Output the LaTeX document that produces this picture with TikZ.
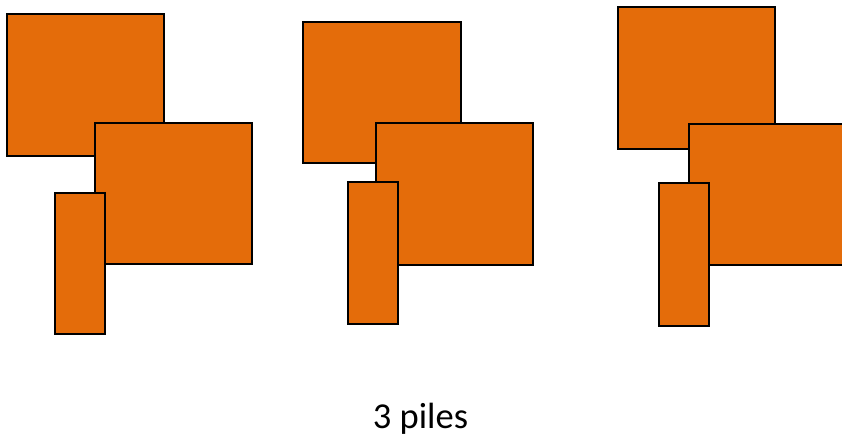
\documentclass[tikz,border=0pt]{standalone}
\usepackage{fontspec}
\setmainfont{Carlito}
\definecolor{pileorange}{HTML}{E46C0A}
\begin{document}
\begin{tikzpicture}[x=1pt,y=-1pt,
  block/.style={fill=pileorange,draw=black,line width=1.2pt}]
\useasboundingbox (0,0) rectangle (842,438);
\clip (0,0) rectangle (842,438);
% pile 1
\draw[block] (7,14) rectangle (164,156);
\draw[block] (95,123) rectangle (252,264);
\draw[block] (55,193) rectangle (105,334);
% pile 2
\draw[block] (303,22) rectangle (461,163);
\draw[block] (376,123) rectangle (533,265);
\draw[block] (348,182) rectangle (398,324);
% pile 3
\draw[block] (618,7) rectangle (775,149);
\draw[block] (689,124) rectangle (846,265);
\draw[block] (659,183) rectangle (709,326);
\node[anchor=base,inner sep=0pt,font=\fontsize{36.5}{42}\selectfont] (caption) at (420.5,428) {3 piles};
\end{tikzpicture}
\end{document}
